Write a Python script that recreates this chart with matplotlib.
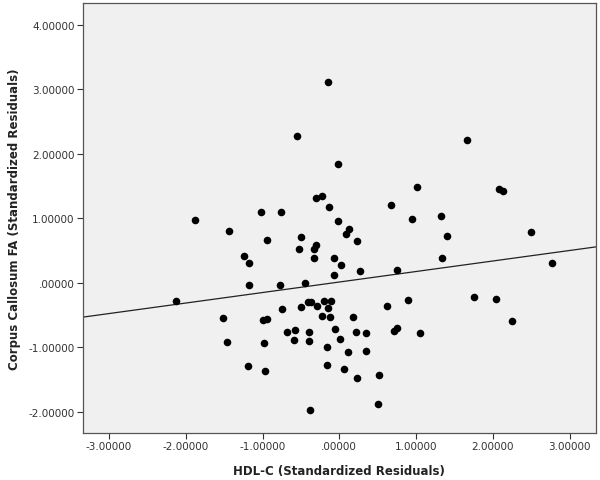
import numpy as np
import matplotlib
matplotlib.use('Agg')
import matplotlib.pyplot as plt
from matplotlib.ticker import FuncFormatter

# standardized residuals
hdl = [-2.126, -1.879, -1.514, -1.466, -1.432, -1.241, -1.180, -1.182, -1.195, -1.023,
       -0.759, -0.941, -0.993, -0.941, -0.984, -0.974, -0.772, -0.750, -0.677, -0.573,
       -0.590, -0.555, -0.529, -0.499, -0.495, -0.451, -0.401, -0.395, -0.414, -0.368,
       -0.382, -0.307, -0.225, -0.307, -0.329, -0.326, -0.286, -0.193, -0.104, -0.141,
       -0.225, -0.121, -0.154, -0.164, -0.143, -0.128, -0.069, -0.065, -0.059, -0.013,
       -0.013, 0.018, 0.013, 0.061, 0.081, 0.130, 0.117, 0.174, 0.216, 0.227,
       0.230, 0.266, 0.344, 0.344, 0.500, 0.517, 0.625, 0.669, 0.716, 0.745,
       0.751, 0.898, 0.947, 1.008, 1.051, 1.318, 1.396, 1.335, 1.667, 1.758,
       2.040, 2.083, 2.128, 2.253, 2.492, 2.773]
fa = [-0.279, 0.977, -0.547, -0.919, 0.795, 0.414, 0.310, -0.031, -1.298, 1.096,
      1.096, 0.667, -0.574, -0.558, -0.930, -1.369, -0.031, -0.403, -0.760, -0.740,
      -0.891, 2.274, 0.527, 0.709, -0.377, -0.005, -0.767, -0.907, -0.302, -0.295,
      -1.974, 1.313, 1.349, 0.578, 0.516, 0.388, -0.361, -0.282, -0.287, -0.391,
      -0.519, -0.532, -1.000, -1.271, 3.105, 1.167, 0.388, 0.119, -0.716, 1.834,
      0.950, 0.274, -0.879, -1.333, 0.747, 0.826, -1.078, -0.538, -0.767, 0.651,
      -1.484, 0.181, -0.780, -1.065, -1.876, -1.431, -0.361, 1.209, -0.755, -0.709,
      0.194, -0.268, 0.981, 1.488, -0.778, 1.039, 0.729, 0.388, 2.217, -0.217,
      -0.259, 1.447, 1.422, -0.594, 0.791, 0.299]

x_ticks = [-3, -2, -1, 0, 1, 2, 3]
y_ticks = [-2, -1, 0, 1, 2, 3, 4]


def spss_fmt(v, pos=None):
    s = f"{v:.5f}"
    if s.startswith("0."):
        s = s[1:]
    return s


fig = plt.figure(figsize=(6, 4.81), dpi=100)
ax = fig.add_axes([0.138, 0.098, 0.855, 0.894])
ax.set_facecolor('#f0f0f0')

ax.scatter(hdl, fa, s=30, color='black', zorder=3, linewidths=0)

# linear fit line across the whole x range
xlim = (-3.34, 3.34)
slope, inter = np.polyfit(hdl, fa, 1)
xx = np.array(xlim)
ax.plot(xx, slope * xx + inter, color='#222222', lw=0.9, zorder=2)

ax.set_xlim(xlim)
ax.set_ylim(-2.33, 4.34)
ax.set_xticks(x_ticks)
ax.set_yticks(y_ticks)
ax.xaxis.set_major_formatter(FuncFormatter(spss_fmt))
ax.yaxis.set_major_formatter(FuncFormatter(spss_fmt))
ax.tick_params(labelsize=7.5, colors='#333333', length=4, width=0.8, pad=2)
for sp in ax.spines.values():
    sp.set_color('#555555')
    sp.set_linewidth(0.9)

ax.set_xlabel('HDL-C (Standardized Residuals)', fontsize=8.5, fontweight='bold',
              color='#222222', labelpad=9)
ax.set_ylabel('Corpus Callosum FA (Standardized Residuals)', fontsize=8.5,
              fontweight='bold', color='#222222', labelpad=5)

fig.savefig('out.png', dpi=100)
